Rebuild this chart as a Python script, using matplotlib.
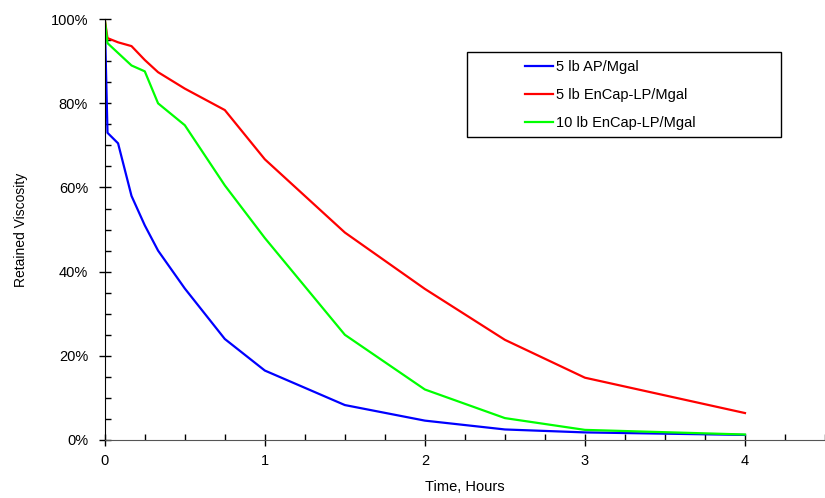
import matplotlib
matplotlib.use("Agg")
import matplotlib.pyplot as plt
from matplotlib.ticker import MultipleLocator, PercentFormatter
from matplotlib.patches import Rectangle

plt.rcParams['font.family'] = ['Liberation Sans', 'DejaVu Sans']

hours_ap = [0, 0.017, 0.083, 0.167, 0.25, 0.333, 0.5, 0.75, 1, 1.5, 2, 2.5, 3, 4]
ap_5lb = [100, 73, 70.5, 58, 51, 45, 36, 24, 16.5, 8.3, 4.6, 2.5, 1.8, 1.2]

hours_red = [0, 0.017, 0.083, 0.167, 0.25, 0.333, 0.5, 0.75, 1, 1.5, 2, 2.5, 3, 4]
encap_5lb = [100, 95.5, 94.5, 93.6, 90.3, 87.4, 83.5, 78.4, 66.7, 49.3, 35.9, 23.8, 14.8, 6.4]

hours_green = [0, 0.017, 0.167, 0.25, 0.333, 0.5, 0.75, 1, 1.5, 2, 2.5, 3, 4]
encap_10lb = [100, 94.3, 89, 87.6, 80, 74.8, 60.5, 48, 25, 12, 5.2, 2.4, 1.3]

labels = ["5 lb AP/Mgal", "5 lb EnCap-LP/Mgal", "10 lb EnCap-LP/Mgal"]

fig = plt.figure(figsize=(8.25, 4.98), dpi=100)
ax = fig.add_axes([0.127, 0.1165, 0.873, 0.845])

ax.plot(hours_ap, ap_5lb, color='#0000ff', lw=1.6, label=labels[0])
ax.plot(hours_red, encap_5lb, color='#ff0000', lw=1.6, label=labels[1])
ax.plot(hours_green, encap_10lb, color='#00ff00', lw=1.6, label=labels[2])

ax.set_xlim(0, 4.5)
ax.set_ylim(0, 100)
ax.xaxis.set_major_locator(MultipleLocator(1))
ax.xaxis.set_minor_locator(MultipleLocator(0.25))
ax.yaxis.set_major_locator(MultipleLocator(20))
ax.yaxis.set_minor_locator(MultipleLocator(5))
ax.yaxis.set_major_formatter(PercentFormatter(decimals=0))
ax.tick_params(which='major', direction='inout', length=8, width=1, labelsize=10.5, pad=6)
ax.tick_params(axis='y', which='major', pad=8)
ax.tick_params(which='minor', direction='in', length=4, width=1)
ax.spines['top'].set_visible(False)
ax.spines['right'].set_visible(False)
ax.spines['bottom'].set_color('#555555')

ax.set_xlabel("Time, Hours", fontsize=10.5, labelpad=9)
ax.set_ylabel("Retained Viscosity", fontsize=10, labelpad=16)

# legend box (frame drawn separately to match the wide reference box)
box = Rectangle((0.503, 0.7197), 0.436, 0.2019, transform=ax.transAxes,
                facecolor='white', edgecolor='black', lw=1, zorder=4)
ax.add_patch(box)
leg = ax.legend(loc='upper left', bbox_to_anchor=(525 / 825, 1 - 60 / 498),
                bbox_transform=fig.transFigure, frameon=False,
                fontsize=10.5, handlelength=1.9, borderpad=0,
                labelspacing=0.95, handletextpad=0.25, borderaxespad=0)
leg.set_zorder(5)
for line in leg.get_lines():
    line.set_linewidth(1.6)

fig.savefig("out.png", dpi=100)
